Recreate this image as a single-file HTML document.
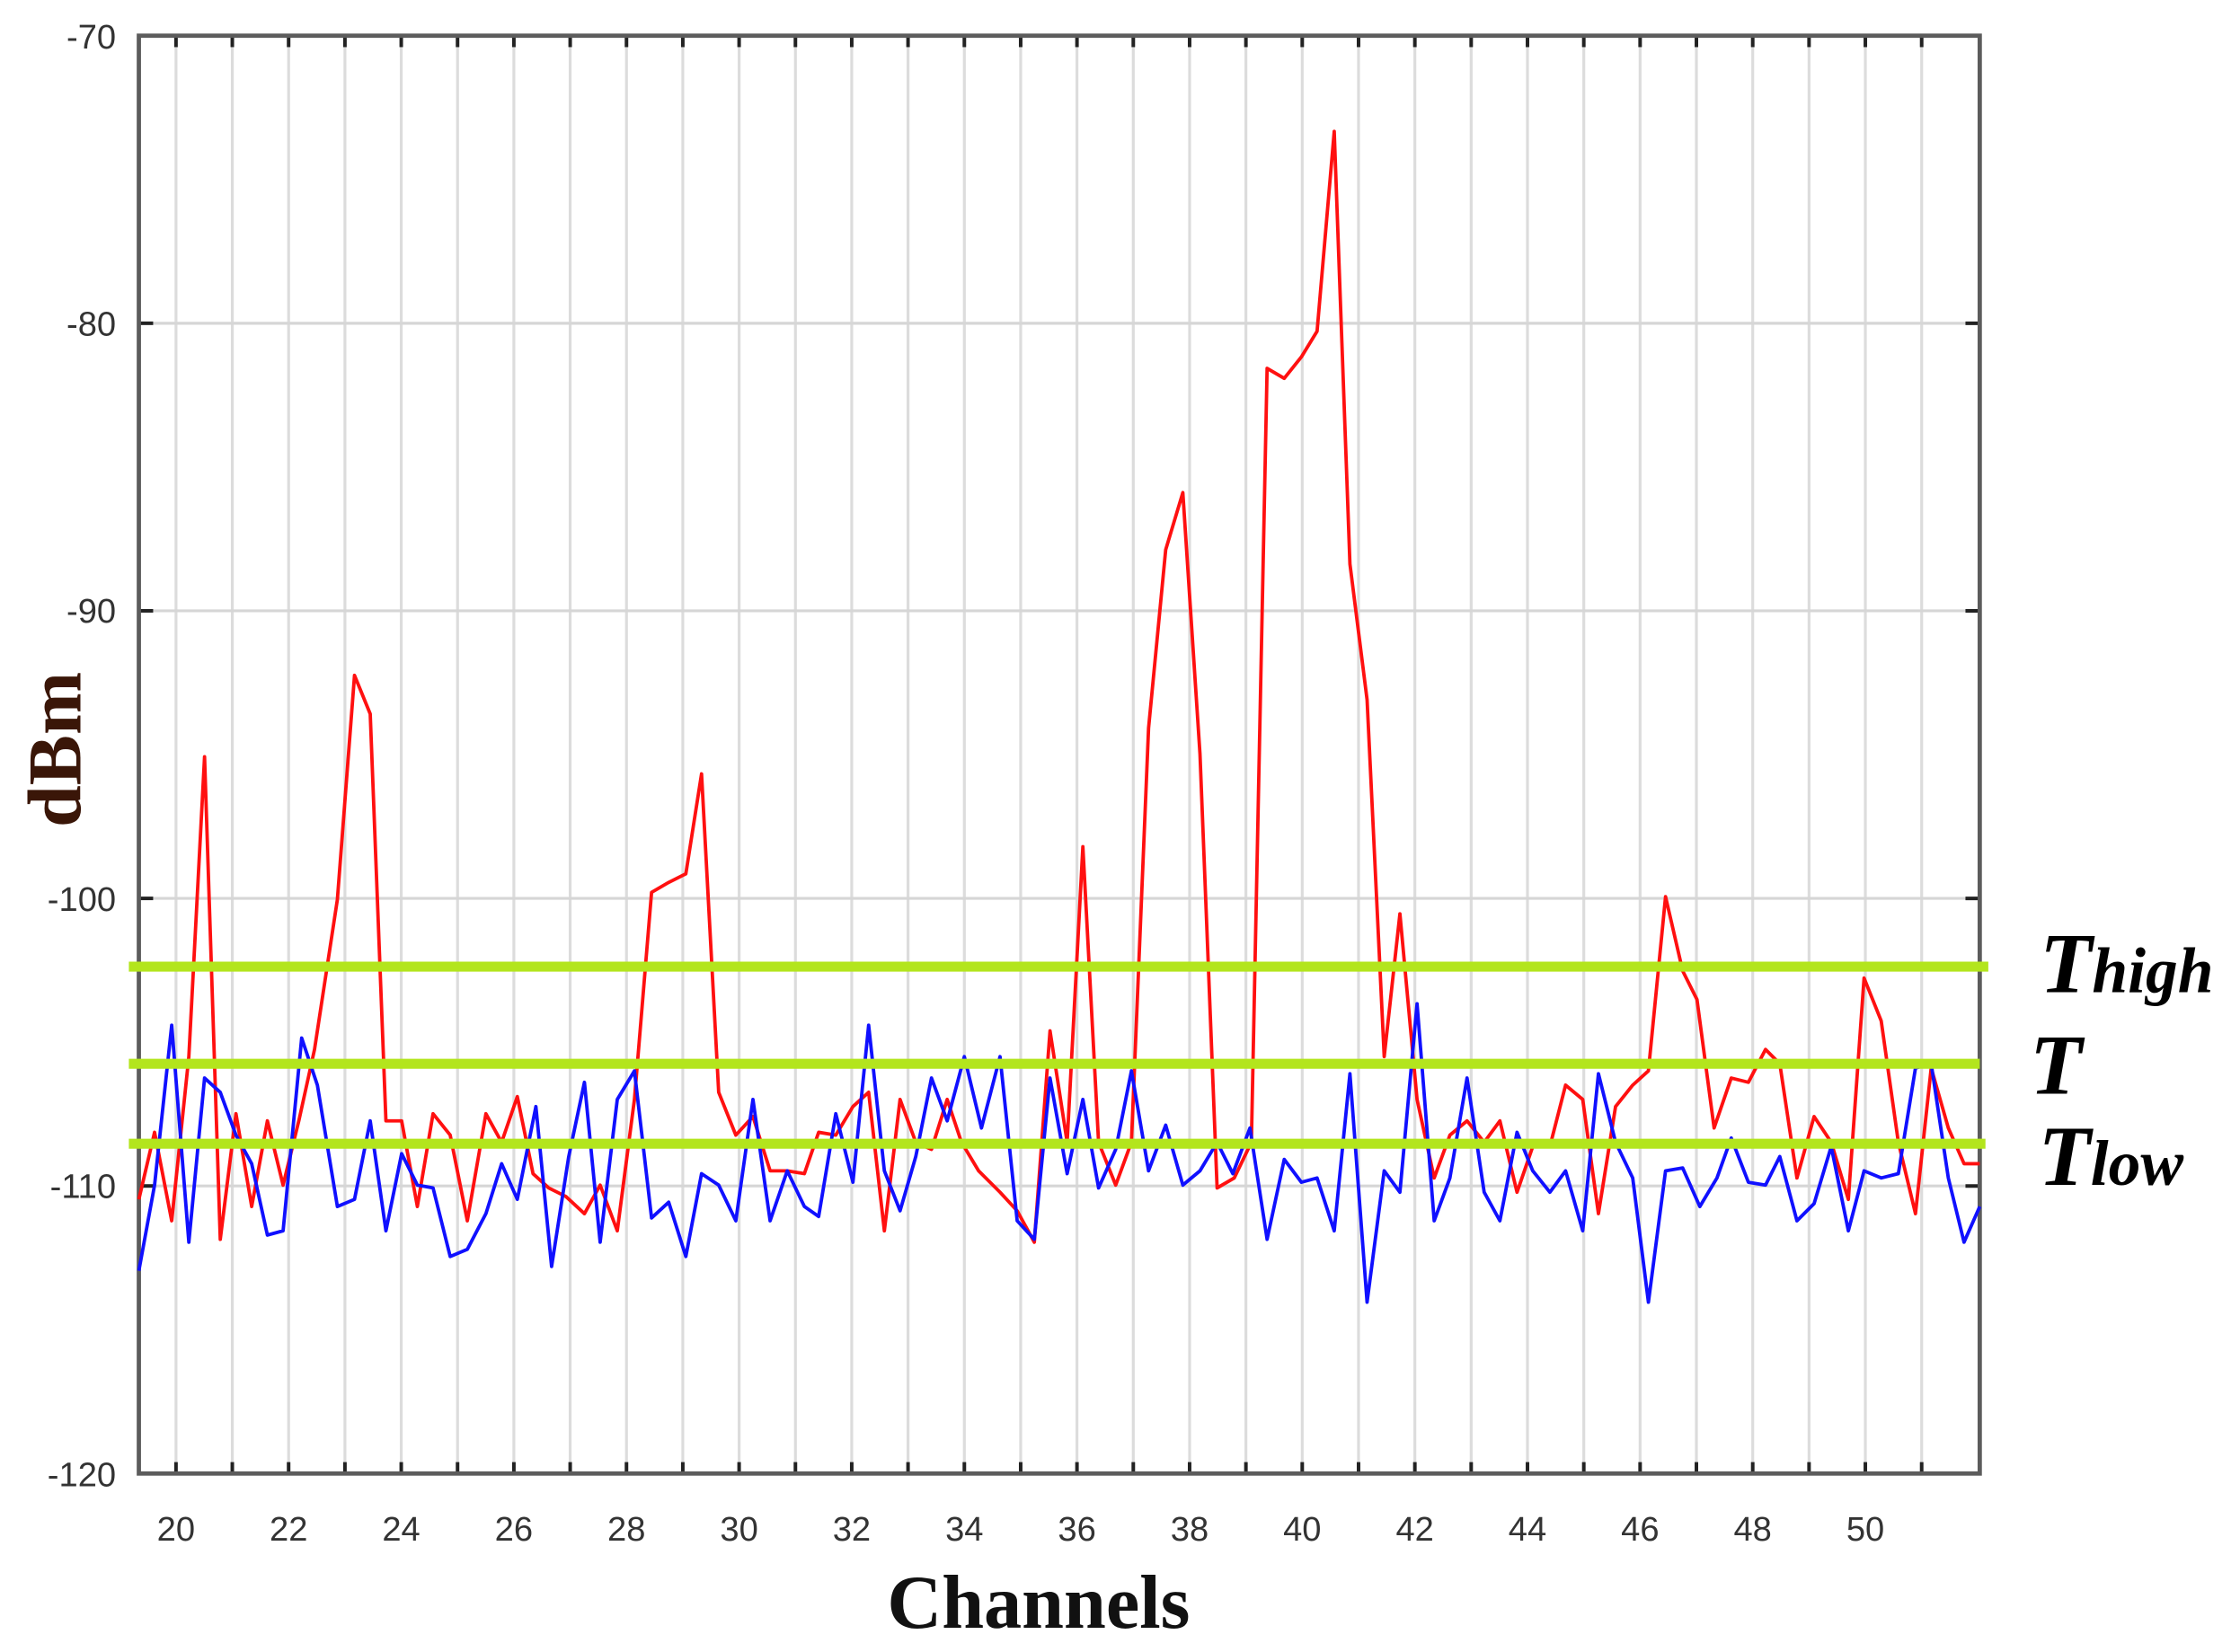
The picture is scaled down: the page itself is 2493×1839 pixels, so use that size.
<!DOCTYPE html>
<html><head><meta charset="utf-8"><style>html,body{margin:0;padding:0;background:#fff}svg{display:block}</style></head>
<body>
<svg width="2493" height="1839" viewBox="0 0 1568 1157" xmlns="http://www.w3.org/2000/svg">
<rect width="1568" height="1157" fill="#fff"/>
<g id="grid" stroke="#dcdcdc" stroke-width="2"></g>
<g stroke="#d6d6d6" stroke-width="2">
<line x1="97" y1="226.4" x2="1386" y2="226.4"/>
<line x1="97" y1="427.8" x2="1386" y2="427.8"/>
<line x1="97" y1="629.2" x2="1386" y2="629.2"/>
<line x1="97" y1="830.6" x2="1386" y2="830.6"/>
</g>
<g id="ticks" stroke="#222" stroke-width="2.5"></g>
<rect x="97" y="25" width="1289" height="1007" fill="none" stroke="#5c5c5c" stroke-width="3"/>
<g font-family="Liberation Sans, sans-serif" font-size="24" fill="#333" text-anchor="end">
<text x="81" y="34">-70</text><text x="81" y="235">-80</text><text x="81" y="436">-90</text>
<text x="81" y="638">-100</text><text x="81" y="839">-110</text><text x="81" y="1041">-120</text>
</g>
<g id="xl" font-family="Liberation Sans, sans-serif" font-size="24" fill="#333" text-anchor="middle"></g>
<polyline fill="none" stroke="#ff1010" stroke-width="2.4" stroke-linejoin="round" points="97,840 108,793 120,855 132,740 143,530 154,868 165,780 176,845 187,785 198,830 209,785 220,735 236,630 248,473 259,500 270,785 281,785 292,845 303,780 315,795 327,855 340,780 351,800 362,768 373,822 384,832 396,838 409,850 420,830 432,862 444,770 456,625 468,618 480,612 491,542 503,765 515,795 527,782 539,820 551,820 563,822 573,793 585,795 597,775 608,765 619,862 630,770 641,800 652,805 663,770 673,800 685,820 700,835 712,848 724,870 735,722 747,800 758,593 769,800 781,830 792,800 804,510 816,385 828,345 840,528 852,832 864,825 876,800 887,258 899,265 911,250 922,232 934,92 945,395 957,490 969,740 980,640 992,770 1004,825 1015,795 1027,785 1039,800 1050,785 1062,835 1073,803 1085,803 1096,760 1108,770 1119,850 1131,775 1143,760 1154,750 1166,628 1178,680 1188,700 1200,790 1212,755 1224,758 1236,735 1246,745 1258,825 1270,782 1282,800 1294,840 1305,685 1317,715 1329,800 1341,850 1352,748 1364,790 1375,815 1386,815"/>
<polyline fill="none" stroke="#1010ff" stroke-width="2.4" stroke-linejoin="round" points="97,890 108,830 120,718 132,870 143,755 154,765 165,795 176,815 187,865 198,862 211,727 222,760 236,845 248,840 259,785 270,862 281,808 292,830 303,832 315,880 327,875 340,850 351,815 362,840 375,775 386,887 398,810 409,758 420,870 432,770 444,750 456,853 468,842 480,880 491,822 503,830 515,855 527,770 539,855 551,820 563,845 573,852 585,780 597,828 608,718 619,820 630,848 641,810 652,755 663,785 675,740 687,790 700,740 712,855 724,868 735,755 747,822 758,770 769,832 781,805 792,750 804,820 816,788 828,830 840,820 852,800 863,822 875,790 887,868 899,812 911,828 922,825 934,862 945,752 957,912 969,820 980,835 992,703 1004,855 1015,825 1027,755 1039,835 1050,855 1062,793 1073,820 1085,835 1096,820 1108,862 1119,752 1131,800 1143,825 1154,912 1166,820 1178,818 1190,845 1202,825 1212,797 1224,828 1236,830 1246,810 1258,855 1270,843 1282,803 1294,862 1305,820 1317,825 1329,822 1341,748 1352,745 1364,825 1375,870 1386,845"/>
<g stroke="#b3e51d" stroke-width="7">
<line x1="90" y1="677" x2="1392" y2="677"/>
<line x1="90" y1="745" x2="1386" y2="745"/>
<line x1="90" y1="801" x2="1390" y2="801"/>
</g>
<g font-family="Liberation Serif, serif" font-weight="bold" font-style="italic" fill="#000">
<text x="1428" y="695" font-size="60">T<tspan font-size="45">high</tspan></text>
<text x="1421" y="766" font-size="60">T</text>
<text x="1427" y="830" font-size="60">T<tspan font-size="45">low</tspan></text>
</g>
<text x="727" y="1140" font-family="Liberation Serif, serif" font-weight="bold" font-size="53" fill="#111" text-anchor="middle">Channels</text>
<text transform="translate(56,525) rotate(-90)" font-family="Liberation Serif, serif" font-weight="bold" font-size="53" fill="#3a1608" text-anchor="middle">dBm</text>
<script>
var g=document.getElementById('grid'),t=document.getElementById('ticks'),xl=document.getElementById('xl'),ns='http://www.w3.org/2000/svg';
function L(p,a){var e=document.createElementNS(ns,'line');for(var k in a)e.setAttribute(k,a[k]);p.appendChild(e);}
for(var c=20;c<=51;c++){var x=123+(c-20)*39.43;L(g,{x1:x,y1:25,x2:x,y2:1032});L(t,{x1:x,y1:25,x2:x,y2:33});L(t,{x1:x,y1:1024,x2:x,y2:1032});
if(c%2==0&&c<=50){var e=document.createElementNS(ns,'text');e.setAttribute('x',x);e.setAttribute('y',1079);e.textContent=c;xl.appendChild(e);}}
for(var i=0;i<=5;i++){var y=25+i*201.4;L(t,{x1:97,y1:y,x2:107,y2:y});L(t,{x1:1376,y1:y,x2:1386,y2:y});}
</script>
</svg>
</body></html>
